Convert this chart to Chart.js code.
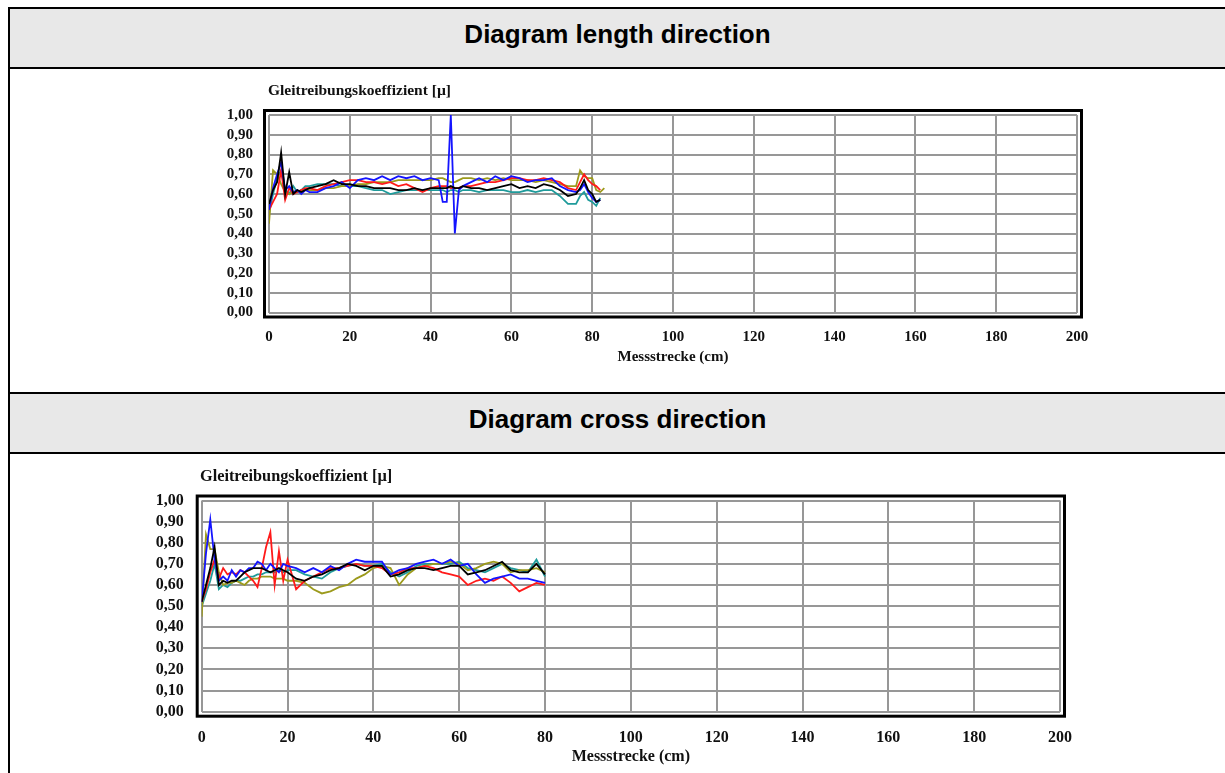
<!DOCTYPE html>
<html lang="en">
<head>
<meta charset="UTF-8">
<title>Gleitreibungskoeffizient</title>
<script src="https://cdn.jsdelivr.net/npm/chart.js"></script>
<style>
    html, body { margin: 0; padding: 0; background: #fff; }
    body { width: 1225px; height: 773px; position: relative; overflow: hidden; }
    .band { position: absolute; left: 10px; width: 1215px; height: 59px; background: #e8e8e8; }
    .band span { position: absolute; left: 0; width: 100%; text-align: center; font: bold 26px "Liberation Sans", Arial, sans-serif; line-height: 29px; color: #000; }
    .hline { position: absolute; left: 8px; width: 1217px; height: 2px; background: #000; }
    .vline { position: absolute; left: 8px; top: 7px; width: 2px; height: 766px; background: #000; }
    canvas { position: absolute; left: 0; }
</style>
</head>
<body>
    <div class="band" style="top:8px"><span style="top:12px">Diagram length direction</span></div>
    <div class="band" style="top:393px"><span style="top:12px">Diagram cross direction</span></div>
    <div class="hline" style="top:7px"></div>
    <div class="hline" style="top:67px"></div>
    <div class="hline" style="top:392px"></div>
    <div class="hline" style="top:452px"></div>
    <div class="vline"></div>
    <canvas id="chartLength" width="1225" height="322" style="top:70px"></canvas>
    <canvas id="chartCross" width="1225" height="318" style="top:455px"></canvas>

<script>
// axis labels
const yTitle = 'Gleitreibungskoeffizient [µ]';
const xTitle = 'Messstrecke (cm)';
const yTickLabels = ['0,00', '0,10', '0,20', '0,30', '0,40', '0,50', '0,60', '0,70', '0,80', '0,90', '1,00'];
const xTickLabels = ['0', '20', '40', '60', '80', '100', '120', '140', '160', '180', '200'];

// length direction (cm positions + five runs)
const lenX = [0, 1, 2, 3, 4, 5, 6, 7, 8, 9, 10,
    12, 14, 16, 18, 20, 22, 24, 26, 28, 30, 32, 34, 36, 38, 40, 42,
    43, 44, 45, 46, 47, 48,
    50, 52, 54, 56, 58, 60, 62, 64, 66, 68, 70, 72, 74, 76,
    77, 78, 79, 80, 81, 82, 83];
const lenBlack = [0.55, 0.62, 0.66, 0.81, 0.60, 0.71, 0.60, 0.62, 0.61, 0.62, 0.63,
    0.64, 0.65, 0.67, 0.65, 0.65, 0.64, 0.64, 0.63, 0.63, 0.63, 0.62, 0.62, 0.63, 0.62, 0.63, 0.63,
    0.63, 0.63, 0.64, 0.63, 0.63, 0.64,
    0.63, 0.63, 0.62, 0.63, 0.64, 0.65, 0.63, 0.64, 0.63, 0.65, 0.64, 0.62, 0.59, 0.60,
    0.63, 0.67, 0.62, 0.60, 0.56, 0.57, null];
const lenBlue = [0.52, 0.63, 0.70, 0.76, 0.62, 0.64, 0.61, 0.62, 0.60, 0.62, 0.61,
    0.61, 0.63, 0.64, 0.66, 0.63, 0.67, 0.68, 0.67, 0.69, 0.67, 0.69, 0.68, 0.69, 0.67, 0.68, 0.67,
    0.56, 0.56, 1.00, 0.40, 0.62, 0.64,
    0.66, 0.68, 0.66, 0.69, 0.67, 0.69, 0.68, 0.66, 0.67, 0.67, 0.68, 0.64, 0.62, 0.61,
    0.62, 0.65, 0.61, 0.58, 0.56, 0.57, null];
const lenRed = [0.52, 0.56, 0.60, 0.72, 0.57, 0.63, 0.60, 0.61, 0.62, 0.63, 0.63,
    0.62, 0.64, 0.65, 0.66, 0.67, 0.67, 0.66, 0.66, 0.65, 0.66, 0.64, 0.65, 0.63, 0.61, 0.63, 0.64,
    0.64, 0.64, 0.63, 0.63, 0.63, 0.64,
    0.64, 0.65, 0.66, 0.66, 0.67, 0.68, 0.68, 0.67, 0.67, 0.68, 0.67, 0.66, 0.63, 0.62,
    0.66, 0.70, 0.67, 0.65, 0.64, 0.62, null];
const lenOlive = [0.45, 0.72, 0.70, 0.65, 0.61, 0.60, 0.61, 0.61, 0.62, 0.62, 0.62,
    0.62, 0.63, 0.63, 0.64, 0.64, 0.65, 0.65, 0.66, 0.66, 0.66, 0.67, 0.67, 0.67, 0.67, 0.67, 0.68,
    0.68, 0.67, 0.66, 0.66, 0.67, 0.68,
    0.68, 0.67, 0.68, 0.67, 0.68, 0.67, 0.67, 0.67, 0.66, 0.67, 0.66, 0.65, 0.64, 0.64,
    0.72, 0.69, 0.68, 0.68, 0.62, 0.61, 0.63];
const lenTeal = [0.50, 0.60, 0.68, 0.72, 0.62, 0.60, 0.64, 0.61, 0.62, 0.64, 0.64,
    0.65, 0.65, 0.65, 0.64, 0.64, 0.64, 0.63, 0.62, 0.62, 0.60, 0.61, 0.62, 0.62, 0.62, 0.62, 0.62,
    0.62, 0.61, 0.62, 0.62, 0.61, 0.62,
    0.62, 0.61, 0.62, 0.62, 0.62, 0.61, 0.61, 0.62, 0.61, 0.62, 0.62, 0.59, 0.55, 0.55,
    0.59, 0.61, 0.57, 0.56, 0.54, 0.58, null];

// cross direction
const crossX = [0, 1, 2, 3, 4, 5, 6, 7, 8, 9, 10, 11, 12, 13, 14, 15, 16, 17, 18, 19, 20,
    22, 24, 26, 28, 30, 32, 34, 36, 38, 40, 42, 44, 46, 48, 50, 52, 54, 56, 58,
    60, 62, 64, 66, 68, 70, 72, 74, 76, 78, 80];
const crossBlack = [0.52, 0.60, 0.68, 0.78, 0.60, 0.62, 0.61, 0.62, 0.62, 0.64, 0.66, 0.67, 0.68, 0.68, 0.68, 0.67, 0.66, 0.67, 0.68, 0.67, 0.66,
    0.63, 0.62, 0.64, 0.65, 0.67, 0.68, 0.70, 0.69, 0.67, 0.69, 0.69, 0.64, 0.65, 0.67, 0.68, 0.68, 0.67, 0.68, 0.69,
    0.69, 0.65, 0.66, 0.67, 0.69, 0.71, 0.67, 0.66, 0.66, 0.70, 0.65];
const crossBlue = [0.52, 0.75, 0.91, 0.72, 0.62, 0.64, 0.62, 0.67, 0.64, 0.67, 0.66, 0.68, 0.68, 0.71, 0.70, 0.67, 0.70, 0.68, 0.66, 0.70, 0.69,
    0.68, 0.66, 0.68, 0.66, 0.69, 0.67, 0.70, 0.72, 0.71, 0.71, 0.71, 0.65, 0.67, 0.68, 0.70, 0.71, 0.72, 0.70, 0.72,
    0.69, 0.70, 0.65, 0.61, 0.63, 0.64, 0.65, 0.63, 0.63, 0.62, 0.61];
const crossRed = [0.52, 0.58, 0.66, 0.72, 0.63, 0.68, 0.65, 0.66, 0.65, 0.67, 0.66, 0.64, 0.62, 0.59, 0.68, 0.78, 0.85, 0.60, 0.76, 0.62, 0.72,
    0.58, 0.62, 0.64, 0.66, 0.68, 0.68, 0.69, 0.70, 0.69, 0.69, 0.68, 0.65, 0.66, 0.68, 0.68, 0.69, 0.68, 0.66, 0.65,
    0.64, 0.60, 0.62, 0.63, 0.62, 0.64, 0.61, 0.57, 0.59, 0.61, 0.60];
const crossOlive = [0.45, 0.84, 0.77, 0.77, 0.66, 0.60, 0.61, 0.61, 0.62, 0.61, 0.60, 0.62, 0.63, 0.63, 0.64, 0.64, 0.64, 0.63, 0.63, 0.63, 0.62,
    0.62, 0.61, 0.58, 0.56, 0.57, 0.59, 0.60, 0.63, 0.65, 0.68, 0.69, 0.68, 0.60, 0.65, 0.68, 0.69, 0.70, 0.70, 0.71,
    0.70, 0.67, 0.68, 0.70, 0.71, 0.70, 0.66, 0.67, 0.67, 0.68, 0.66];
const crossTeal = [0.50, 0.56, 0.62, 0.70, 0.58, 0.60, 0.59, 0.61, 0.62, 0.62, 0.63, 0.64, 0.64, 0.65, 0.65, 0.66, 0.66, 0.66, 0.67, 0.66, 0.67,
    0.67, 0.65, 0.64, 0.63, 0.66, 0.68, 0.69, 0.70, 0.69, 0.69, 0.70, 0.66, 0.64, 0.66, 0.69, 0.70, 0.70, 0.70, 0.70,
    0.71, 0.68, 0.67, 0.66, 0.68, 0.70, 0.68, 0.67, 0.66, 0.72, 0.64];

const colors = { black: '#000000', blue: '#1414ff', red: '#ff1a1a', olive: '#9c9a1c', teal: '#1f9b9b' };

function series(xs, ys, color) {
    return {
        data: xs.map((x, i) => ({ x: x, y: ys[i] })),
        borderColor: color,
        borderWidth: 1.8,
        pointRadius: 0,
        tension: 0,
        fill: false
    };
}

// frame + title drawn on top of the chart
function framePlugin(titleX, titleY, fontSize) {
    return {
        id: 'frameTitle',
        afterDraw(chart) {
            const { ctx, chartArea } = chart;
            const off = 4.5;
            ctx.save();
            ctx.strokeStyle = '#000';
            ctx.lineWidth = 3;
            ctx.strokeRect(chartArea.left - off, chartArea.top - off,
                chartArea.right - chartArea.left + off * 2, chartArea.bottom - chartArea.top + off * 2);
            ctx.fillStyle = '#111';
            ctx.font = 'bold ' + fontSize + 'px "Liberation Serif", "Times New Roman", serif';
            ctx.textBaseline = 'middle';
            ctx.textAlign = 'left';
            ctx.fillText(yTitle, titleX, titleY);
            ctx.restore();
        }
    };
}

function makeChart(id, datasets, cfg) {
    const font = { family: '"Liberation Serif", "Times New Roman", serif', size: cfg.fontSize, weight: 'bold' };
    return new Chart(document.getElementById(id), {
        type: 'line',
        data: { datasets: datasets },
        options: {
            responsive: false,
            animation: false,
            layout: { padding: { left: 0, right: cfg.right, top: cfg.top, bottom: cfg.bottom } },
            plugins: { legend: { display: false }, tooltip: { enabled: false } },
            scales: {
                x: {
                    type: 'linear', min: 0, max: 200,
                    afterFit(s) { s.height = cfg.xHeight; },
                    ticks: {
                        stepSize: 20, autoSkip: false, maxRotation: 0, padding: cfg.xPad,
                        color: '#111', font: font,
                        callback: (v, i) => xTickLabels[i]
                    },
                    grid: { color: '#979797', lineWidth: 2, drawTicks: false },
                    border: { display: false },
                    title: { display: true, text: xTitle, color: '#111', font: font, padding: 0 }
                },
                y: {
                    type: 'linear', min: 0, max: 1,
                    afterFit(s) { s.width = cfg.left; },
                    ticks: {
                        stepSize: 0.1, autoSkip: false, padding: cfg.yPad,
                        color: '#111', font: font,
                        callback: (v, i) => yTickLabels[i]
                    },
                    grid: { color: '#979797', lineWidth: 2, drawTicks: false },
                    border: { display: false }
                }
            }
        },
        plugins: [framePlugin(cfg.titleX, cfg.titleY, cfg.titleSize)]
    });
}

makeChart('chartLength', [
    series(lenX, lenBlack, colors.black),
    series(lenX, lenBlue, colors.blue),
    series(lenX, lenRed, colors.red),
    series(lenX, lenOlive, colors.olive),
    series(lenX, lenTeal, colors.teal)
], { left: 269, right: 148, top: 45, bottom: 26, xHeight: 53.5, xPad: 16, yPad: 16, fontSize: 15, titleSize: 15.5, titleX: 268, titleY: 21 });

makeChart('chartCross', [
    series(crossX, crossBlack, colors.black),
    series(crossX, crossBlue, colors.blue),
    series(crossX, crossRed, colors.red),
    series(crossX, crossOlive, colors.olive),
    series(crossX, crossTeal, colors.teal)
], { left: 201.7, right: 165, top: 45.5, bottom: 6.4, xHeight: 54.9, xPad: 17, yPad: 18, fontSize: 16, titleSize: 16.3, titleX: 200, titleY: 22 });
</script>
</body>
</html>
